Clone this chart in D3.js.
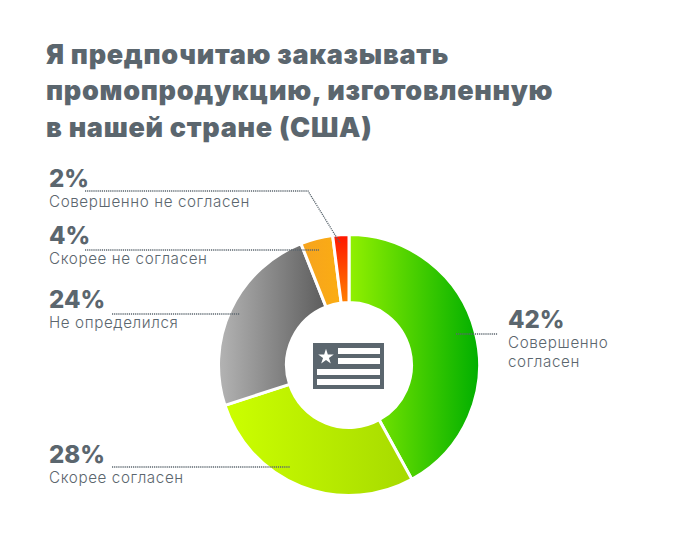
<!DOCTYPE html>
<html><head><meta charset="utf-8">
<script src="https://cdn.jsdelivr.net/npm/d3@7"></script>
<style>html,body{margin:0;background:#fff}svg{display:block}text{font-family:Inter,"Noto Sans",sans-serif}</style>
</head><body><svg id="c" width="700" height="560"></svg>
<script>
const titleLines = ["Я предпочитаю заказывать","промопродукцию, изготовленную","в нашей стране (США)"];
const categories = ["Совершенно согласен","Скорее согласен","Не определился","Скорее не согласен","Совершенно не согласен"];
const values = [42,28,24,4,2];
const percentLabels = ["42%","28%","24%","4%","2%"];
const gradStops = [["#92f000","#00af00"],["#ccff00","#a6da00"],["#b4b4b4","#5c5c5c"],["#f6a31f","#fbad12"],["#ff1500","#ff8000"]];

const ink = "#5b666e";
const svg = d3.select("#c");
const cx = 349, cy = 365, R = 130.5, r = 62.5;
const defs = svg.append("defs");
gradStops.forEach((g,i)=>{
  const vertical = i===4;
  const lg = defs.append("linearGradient").attr("id","g"+i)
    .attr("x1",0).attr("y1",0).attr("x2",vertical?0:1).attr("y2",vertical?1:0);
  lg.append("stop").attr("offset",0).attr("stop-color",g[0]);
  lg.append("stop").attr("offset",1).attr("stop-color",g[1]);
});

svg.append("g").selectAll("text").data(titleLines).join("text")
  .attr("x",46).attr("y",(d,i)=>[64,100,137][i])
  .attr("fill",ink).attr("font-size",27).attr("font-weight",900)
  .attr("letter-spacing",0.7)
  .text(d=>d);

const pie = d3.pie().sort(null).value(d=>d);
const arc = d3.arc().innerRadius(r).outerRadius(R);
const g = svg.append("g").attr("transform",`translate(${cx},${cy})`);
g.selectAll("path").data(pie(values)).join("path")
  .attr("d",arc).attr("fill",(d,i)=>`url(#g${i})`)
  .attr("stroke","#fff").attr("stroke-width",3);

// leader lines
const leaders = [
  [[456,334],[498,334]],
  [[112,467],[290,467]],
  [[112,314],[240,314]],
  [[85,250],[319,250]],
  [[85,191],[308,191],[340,243]]
];
svg.append("g").selectAll("path").data(leaders).join("path")
  .attr("d",d3.line()).attr("fill","none").attr("stroke",ink)
  .attr("stroke-width",1.3).attr("stroke-dasharray","1.2 0.9");

// labels
const labelPos = [[508,328],[49,463],[49,308],[49,244],[49,187]];
const labelLines = [["Совершенно","согласен"],[categories[1]],[categories[2]],[categories[3]],[categories[4]]];
const lab = svg.append("g").selectAll("g").data(values).join("g")
  .attr("transform",(d,i)=>`translate(${labelPos[i]})`);
lab.append("text").attr("fill",ink).attr("font-size",24).attr("font-weight",800)
  .text((d,i)=>percentLabels[i]);
lab.each(function(d,i){
  d3.select(this).selectAll("text.s").data(labelLines[i]).join("text").attr("class","s")
    .attr("y",(t,j)=>19.5+j*19).attr("fill",ink).attr("font-size",15.2).attr("font-weight",300)
    .attr("letter-spacing",0.6)
    .text(t=>t);
});

// flag icon
const flag = svg.append("g");
flag.append("rect").attr("x",313).attr("y",343).attr("width",71).attr("height",46).attr("fill",ink);
[[338,348,42],[338,358,42],[317,369,63],[317,379,63]].forEach(s=>{
  flag.append("rect").attr("x",s[0]).attr("y",s[1]).attr("width",s[2]).attr("height",6).attr("fill","#fff");
});
flag.append("path").attr("transform","translate(326,357)")
  .attr("d",d3.symbol(d3.symbolStar,75)()).attr("fill","#fff");
</script></body></html>
